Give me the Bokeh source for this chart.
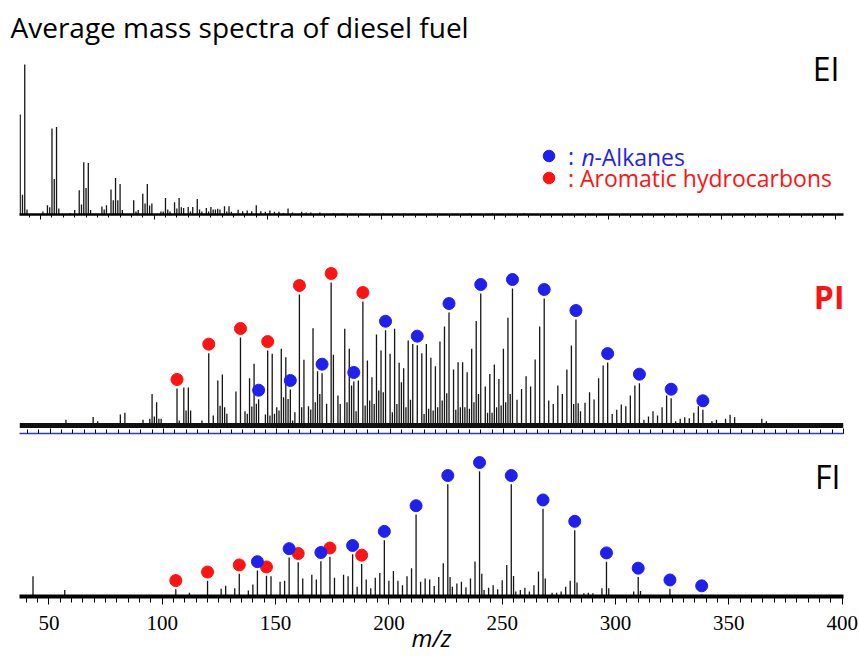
from bokeh.plotting import figure
from bokeh.layouts import column
from bokeh.models import Range1d, FixedTicker, Label, Span, Legend, LegendItem, ColumnDataSource
from bokeh.embed import file_html
from bokeh.resources import INLINE

# ---------------- data ----------------
title_text = "Average mass spectra of diesel fuel"
x_title = "m/z"
x_tick_values = [50, 100, 150, 200, 250, 300, 350, 400]
x_minor_ticks = list(range(40, 401, 5))

ei_mz = [41, 42, 43, 44, 51, 53, 54, 55, 56, 57,
         58, 63, 65, 67, 68, 69, 70, 71, 72, 77,
         78, 79, 81, 82, 83, 84, 85, 86, 91, 92,
         93, 95, 96, 97, 98, 99, 103, 104, 105, 106,
         107, 109, 110, 111, 112, 113, 115, 116, 117, 119,
         120, 121, 123, 124, 125, 126, 127, 128, 129, 131,
         132, 133, 134, 137, 139, 141, 143, 145, 147, 149,
         151, 153, 155, 157, 159, 161, 165, 167, 169, 173,
         179, 183, 191, 201, 210, 225, 239, 249, 263]
ei_int = [66.7, 13.2, 100, 3.3, 2.0, 6.2, 4.9, 57.4, 23.6, 58.3,
          4.0, 1.0, 3.0, 16.1, 6.6, 34.9, 17.7, 34.4, 3.0, 5.3,
          3.3, 6.2, 16.6, 9.5, 24.3, 9.5, 20.3, 3.0, 9.5, 2.0,
          3.0, 13.9, 7.3, 20.3, 6.0, 7.3, 2.0, 2.0, 11.0, 3.3,
          2.0, 8.2, 4.0, 11.0, 4.9, 4.4, 5.0, 2.0, 5.0, 10.4,
          3.3, 2.0, 4.4, 2.0, 5.0, 3.3, 3.3, 3.8, 3.3, 5.5,
          2.0, 5.5, 1.8, 3.1, 2.2, 2.6, 2.2, 6.2, 2.2, 1.8,
          2.6, 1.8, 1.8, 0.9, 4.0, 1.3, 1.8, 1.3, 1.3, 1.3,
          0.9, 0.9, 0.7, 0.7, 0.7, 0.7, 0.7, 0.9, 0.9]

pi_mz = [57, 69, 71, 81, 83, 91, 94, 95, 96, 97,
         98, 99, 106, 107, 109, 110, 111, 112, 117, 120,
         122, 124, 125, 126, 127, 128, 132, 134, 136, 137,
         138, 139, 140, 141, 142, 145, 146, 147, 148, 149,
         150, 151, 152, 153, 154, 155, 156, 157, 158, 160,
         161, 162, 164, 165, 166, 167, 168, 169, 170, 172,
         174, 175, 177, 178, 180, 181, 182, 183, 184, 185,
         186, 188, 189, 190, 191, 192, 193, 194, 195, 196,
         197, 198, 200, 201, 202, 203, 204, 205, 206, 207,
         208, 209, 210, 212, 214, 215, 216, 217, 218, 219,
         220, 221, 222, 223, 224, 225, 226, 228, 229, 230,
         231, 232, 233, 234, 235, 236, 237, 238, 239, 240,
         242, 243, 244, 245, 246, 247, 248, 249, 250, 251,
         252, 253, 254, 256, 258, 260, 262, 264, 266, 268,
         270, 272, 274, 276, 278, 280, 281, 282, 283, 284,
         286, 288, 290, 292, 294, 296, 298, 300, 302, 304,
         306, 308, 310, 312, 314, 316, 318, 320, 322, 324,
         326, 328, 330, 332, 334, 336, 338, 342, 344, 348,
         350, 352, 364, 366]
pi_int = [4.0, 6.0, 3.0, 7.7, 9.0, 4.0, 4.7, 22.0, 6.3, 16.3,
          4.7, 4.7, 25.9, 3.5, 26.6, 10.5, 26.6, 10.5, 3.5, 50.6,
          7.0, 31.5, 13.8, 35.7, 12.8, 8.2, 23.8, 61.5, 10.0, 8.2,
          33.1, 13.3, 43.1, 15.2, 18.4, 7.7, 52.4, 7.0, 50.1, 8.2,
          12.8, 10.5, 53.6, 19.8, 47.8, 18.6, 25.2, 3.5, 9.3, 91.6,
          12.8, 46.0, 13.5, 11.2, 68.0, 16.3, 38.0, 22.1, 36.6, 15.2,
          100, 49.4, 21.0, 15.0, 67.6, 16.3, 53.6, 28.0, 30.8, 10.0,
          31.5, 86.7, 14.0, 45.5, 17.5, 33.8, 15.0, 63.6, 24.5, 52.4,
          23.3, 66.6, 50.1, 9.3, 67.6, 15.0, 43.8, 30.3, 40.0, 12.8,
          59.4, 18.0, 57.0, 56.2, 50.6, 8.0, 57.0, 11.7, 47.3, 10.5,
          41.5, 12.8, 58.7, 17.5, 69.2, 22.6, 79.0, 39.2, 11.0, 44.3,
          12.8, 44.3, 12.8, 37.3, 11.7, 53.6, 16.3, 73.0, 22.0, 92.3,
          27.3, 9.0, 36.1, 9.0, 42.7, 12.8, 32.6, 14.0, 53.6, 16.3,
          75.3, 22.0, 95.8, 18.0, 25.6, 34.5, 27.3, 46.2, 69.2, 88.8,
          17.5, 15.0, 28.0, 22.1, 39.2, 56.0, 15.0, 74.1, 15.6, 10.0,
          15.9, 23.3, 18.2, 33.1, 42.0, 44.0, 8.0, 11.0, 14.7, 13.5,
          21.0, 28.0, 29.6, 4.0, 6.3, 10.0, 7.0, 12.8, 21.0, 19.1,
          3.0, 4.7, 5.8, 5.0, 8.9, 13.5, 11.0, 3.0, 4.0, 4.7,
          7.5, 5.8, 4.7, 3.0]

fi_mz = [43, 57, 106, 112, 120, 126, 128, 132, 134, 138,
         140, 142, 146, 148, 152, 154, 156, 160, 162, 166,
         168, 170, 174, 176, 180, 182, 184, 186, 188, 190,
         192, 194, 196, 198, 200, 202, 204, 206, 208, 210,
         212, 214, 216, 218, 220, 222, 224, 226, 227, 228,
         230, 232, 234, 236, 238, 240, 241, 242, 244, 246,
         248, 250, 252, 254, 255, 256, 258, 260, 262, 264,
         266, 268, 269, 272, 274, 276, 278, 280, 282, 283,
         286, 288, 290, 294, 296, 297, 308, 310, 311, 324,
         338]
fi_int = [16.1, 5.2, 5.7, 3.0, 12.5, 6.2, 8.6, 6.5, 18.2, 4.7,
          9.6, 20.8, 16.6, 16.1, 11.7, 12.5, 31.2, 27.3, 14.3, 17.4,
          13.5, 28.1, 31.7, 15.0, 17.4, 16.1, 33.7, 7.8, 26.0, 13.5,
          6.5, 15.0, 18.7, 45.0, 12.5, 20.3, 12.5, 9.0, 16.1, 22.6,
          65.5, 11.7, 14.3, 13.5, 8.3, 15.6, 26.5, 89.6, 15.6, 7.8,
          10.4, 11.7, 7.3, 14.3, 28.0, 100, 18.2, 5.2, 7.0, 9.0,
          5.7, 13.0, 25.2, 89.6, 16.4, 3.9, 5.2, 7.0, 3.9, 9.0,
          20.0, 70.1, 14.3, 3.0, 3.0, 3.9, 7.8, 12.5, 53.0, 11.2,
          2.6, 3.0, 2.6, 6.5, 27.8, 6.5, 3.9, 15.6, 4.4, 6.2,
          1.5]

alkane_mz = [142, 156, 170, 184, 198, 212, 226, 240, 254, 268, 282, 296, 310, 324, 338]
aromatic_mz = [106, 120, 134, 146, 160, 174, 188]
legend_alkane = [":", "n", "-Alkanes"]
legend_aromatic = ": Aromatic hydrocarbons"

assert len(ei_mz) == len(ei_int)
assert len(pi_mz) == len(pi_int)
assert len(fi_mz) == len(fi_int)

# ---------------- style ----------------
BLUE = "#1f1ff0"
RED = "#ff1212"
PEAK = "#151515"
W = 858
LEFT, RIGHT = 19, 15
DOT = 12
DOT_GAP_PX = 9


def base_fig(height, xr, yr, top, bottom):
    p = figure(width=W, height=height, x_range=Range1d(*xr), y_range=Range1d(*yr),
               output_backend="svg", toolbar_location=None, y_axis_location=None,
               min_border_left=LEFT, min_border_right=RIGHT,
               min_border_top=top, min_border_bottom=bottom)
    p.grid.visible = False
    p.outline_line_color = None
    ax = p.xaxis[0]
    ax.ticker = FixedTicker(ticks=x_tick_values, minor_ticks=x_minor_ticks)
    ax.axis_line_color = "black"
    ax.major_tick_line_color = "black"
    ax.minor_tick_line_color = "black"
    return p


def hide_labels(ax):
    ax.major_label_text_font_size = "0px"
    ax.major_label_text_color = None
    ax.major_label_standoff = 0


def peaks(p, mz, inten):
    src = ColumnDataSource(dict(mz=mz, i=inten))
    p.segment(x0="mz", y0=0, x1="mz", y1="i", source=src,
              line_color=PEAK, line_width=1.3)


def dots(p, marked, mz, inten, color, frame_h):
    lookup = dict(zip(mz, inten))
    yr = p.y_range
    off = DOT_GAP_PX * (yr.end - yr.start) / frame_h
    ys = [lookup[m] + off for m in marked]
    p.scatter(x=marked, y=ys, size=DOT, color=color, line_color=color)


# ---------- EI ----------
p1 = base_fig(222, (40.69, 403.7), (0, 109.33), 50, 8)
hide_labels(p1.xaxis[0])
a1 = p1.xaxis[0]
a1.axis_line_width = 2.5
a1.major_tick_out = 5
a1.major_tick_in = 0
a1.minor_tick_out = 3
a1.minor_tick_in = 0
peaks(p1, ei_mz, ei_int)
p1.title.text = title_text
p1.title.text_font = "Open Sans"
p1.title.text_font_size = "28px"
p1.title.text_font_style = "normal"
p1.title.text_color = "black"
p1.title.align = "left"
p1.title.offset = -9
p1.add_layout(Label(x=401.9, y=82.7, text="EI", text_align="right",
                    text_baseline="bottom",
                    text_font="Open Sans", text_font_size="32px", text_color="black"))

# legend (keys only carry the series' colour; no visible data points)
nan_alk = [float("nan")] * len(alkane_mz)
nan_aro = [float("nan")] * len(aromatic_mz)
r_alk = p1.scatter(x=alkane_mz, y=nan_alk, size=DOT, color=BLUE)
r_aro = p1.scatter(x=aromatic_mz, y=nan_aro, size=DOT, color=RED)
for rend, lab, col, loc in ((r_alk, legend_alkane[0], BLUE, (515, 42.5)),
                            (r_aro, legend_aromatic, RED, (515, 20.5))):
    lg = Legend(items=[LegendItem(label=lab, renderers=[rend], index=0)], location=loc,
                padding=0, margin=0, spacing=0, glyph_width=29, glyph_height=29,
                border_line_color=None, background_fill_alpha=0,
                label_text_font="Open Sans", label_text_font_size="23px",
                label_text_color=col, label_standoff=5, label_width=6)
    p1.add_layout(lg, "center")
leg_kw = dict(text_font="Open Sans", text_font_size="23px", text_baseline="middle",
              text_align="left", text_color=BLUE)
p1.add_layout(Label(x=282.5, y=38.0, x_offset=13, text=legend_alkane[1],
                    text_font_style="italic", **leg_kw))
p1.add_layout(Label(x=282.5, y=38.0, x_offset=26, text=legend_alkane[2], **leg_kw))

# ---------- PI ----------
p2 = base_fig(214, (36.51, 400.04), (-5.59, 141.96), 0, 3)
hide_labels(p2.xaxis[0])
a2 = p2.xaxis[0]
a2.axis_line_color = "#2a3ad8"
a2.axis_line_width = 1.5
a2.major_tick_in = 5
a2.major_tick_out = 0
a2.minor_tick_in = 4
a2.minor_tick_out = 0
p2.add_layout(Span(location=0, dimension="width", line_color="#111111", line_width=5))
peaks(p2, pi_mz, pi_int)
dots(p2, aromatic_mz, pi_mz, pi_int, RED, 211)
dots(p2, alkane_mz, pi_mz, pi_int, BLUE, 211)
p2.add_layout(Label(x=400.5, y=75.5, text="PI", text_align="right",
                    text_baseline="bottom",
                    text_font="Open Sans", text_font_size="32px", text_font_style="bold",
                    text_color=RED))

# ---------- FI ----------
p3 = base_fig(220, (37.04, 400.57), (0, 127.8), 0, 56)
a3 = p3.xaxis[0]
a3.axis_line_width = 4
a3.major_tick_out = 8
a3.major_tick_in = 0
a3.minor_tick_out = 6
a3.minor_tick_in = 0
a3.major_label_text_font = "Liberation Sans Narrow"
a3.major_label_text_font_size = "21px"
a3.major_label_text_color = "black"
a3.major_label_standoff = 11
a3.axis_label = x_title
a3.axis_label_text_font = "Open Sans"
a3.axis_label_text_font_style = "italic"
a3.axis_label_text_font_size = "24px"
a3.axis_label_text_color = "black"
a3.axis_label_standoff = -12
peaks(p3, fi_mz, fi_int)
dots(p3, aromatic_mz, fi_mz, fi_int, RED, 164)
dots(p3, alkane_mz, fi_mz, fi_int, BLUE, 164)
p3.add_layout(Label(x=399.26, y=78.7, text="FI", text_align="right",
                    text_baseline="bottom",
                    text_font="Open Sans", text_font_size="32px", text_color="black"))

layout = column(p1, p2, p3, spacing=0)
open("out.html", "w").write(file_html(layout, INLINE))
